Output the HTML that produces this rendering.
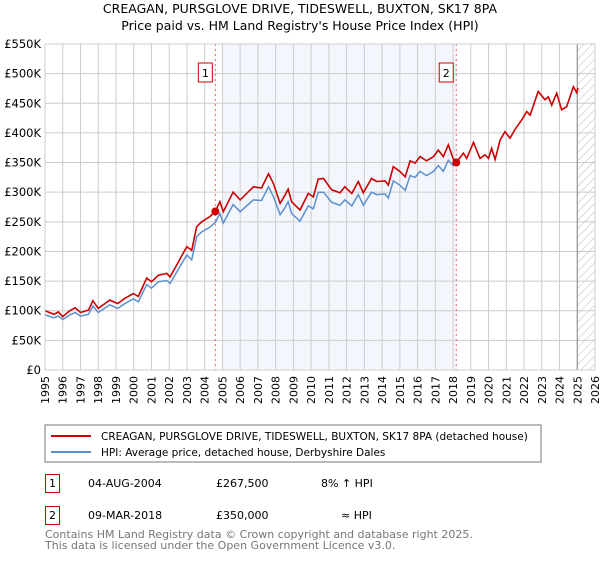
<!DOCTYPE html>
<html><head><meta charset="utf-8"><style>
body{margin:0;background:#fff;font-family:"DejaVu Sans","Liberation Sans",sans-serif;}
svg text{font-family:"DejaVu Sans","Liberation Sans",sans-serif;}
</style></head><body>
<svg id="c" width="600" height="560" xmlns="http://www.w3.org/2000/svg">
<defs><pattern id="hatch" width="6" height="6" patternUnits="userSpaceOnUse" patternTransform="rotate(45)"><line x1="0" y1="0" x2="0" y2="6" stroke="#bbb" stroke-width="1"/></pattern></defs>
<text x="300" y="13" text-anchor="middle" font-size="12.5">CREAGAN, PURSGLOVE DRIVE, TIDESWELL, BUXTON, SK17 8PA</text>
<text x="300" y="30" text-anchor="middle" font-size="12.5">Price paid vs. HM Land Registry's House Price Index (HPI)</text>
<g id="plot"></g>
<g>
<rect x="45" y="425" width="496" height="37" fill="#fff" stroke="#777"/>
<line x1="51" y1="436" x2="91" y2="436" stroke="#cc0000" stroke-width="2"/>
<text x="101" y="440" font-size="10.5">CREAGAN, PURSGLOVE DRIVE, TIDESWELL, BUXTON, SK17 8PA (detached house)</text>
<line x1="51" y1="452" x2="91" y2="452" stroke="#5b8fd0" stroke-width="2"/>
<text x="101" y="456" font-size="10.5">HPI: Average price, detached house, Derbyshire Dales</text>
</g>
<g font-size="11">
<rect x="45.5" y="474.5" width="14" height="18" fill="none" stroke="#cc0000"/>
<text x="52.5" y="487" text-anchor="middle">1</text>
<text x="88" y="487">04-AUG-2004</text>
<text x="216" y="487">£267,500</text>
<text x="321" y="487">8% ↑ HPI</text>
<rect x="45.5" y="506.5" width="14" height="18" fill="none" stroke="#cc0000"/>
<text x="52.5" y="519" text-anchor="middle">2</text>
<text x="88" y="519">09-MAR-2018</text>
<text x="216" y="519">£350,000</text>
<text x="341" y="519">≈ HPI</text>
</g>
<text x="45" y="538" font-size="11" fill="#777">Contains HM Land Registry data © Crown copyright and database right 2025.</text>
<text x="45" y="549" font-size="11" fill="#777">This data is licensed under the Open Government Licence v3.0.</text>
</svg>
<script>
const years=[1995,1996,1997,1998,1999,2000,2001,2002,2003,2004,2005,2006,2007,2008,2009,2010,2011,2012,2013,2014,2015,2016,2017,2018,2019,2020,2021,2022,2023,2024,2025,2026];
const yTicks=[0,50,100,150,200,250,300,350,400,450,500,550];
const yTickLabels=["£0","£50K","£100K","£150K","£200K","£250K","£300K","£350K","£400K","£450K","£500K","£550K"];
const priceDates=[1995.0,1995.5,1995.75,1996.0,1996.4,1996.7,1997.0,1997.45,1997.7,1998.0,1998.65,1999.1,1999.5,1999.98,2000.26,2000.73,2001.0,2001.4,2001.86,2002.05,2002.42,2002.99,2003.27,2003.55,2003.83,2004.3,2004.6,2004.86,2005.05,2005.6,2006.0,2006.74,2007.2,2007.6,2007.87,2008.25,2008.53,2008.7,2008.9,2009.37,2009.84,2010.12,2010.4,2010.7,2011.16,2011.63,2011.9,2012.29,2012.66,2012.94,2013.4,2013.7,2014.17,2014.35,2014.63,2015.0,2015.3,2015.58,2015.86,2016.14,2016.5,2016.9,2017.17,2017.45,2017.73,2018.0,2018.18,2018.58,2018.77,2019.15,2019.52,2019.8,2020.0,2020.17,2020.37,2020.65,2020.93,2021.21,2021.49,2021.87,2022.15,2022.34,2022.8,2023.18,2023.37,2023.56,2023.84,2024.12,2024.4,2024.5,2024.78,2024.97,2025.04];
const priceValues=[100,94,98,90,100,105,97,101,117,104,118,112,121,129,124,155,149,160,163,157,177,208,202,242,250,259,267.5,284,267,300,287,309,307,331,315,281,295,305,284,270,298,292,322,323,304,299,309,298,318,299,323,318,319,312,343,335,326,353,349,360,353,360,371,360,380,357,350,366,357,384,357,363,357,374,355,388,402,391,406,422,436,430,470,456,461,447,467,439,444,453,478,468,476];
const hpiDates=[1995.0,1995.5,1995.75,1996.0,1996.4,1996.7,1997.0,1997.45,1997.7,1998.0,1998.65,1999.1,1999.5,1999.98,2000.26,2000.73,2001.0,2001.4,2001.86,2002.05,2002.42,2002.99,2003.27,2003.55,2003.83,2004.3,2004.6,2004.86,2005.05,2005.6,2006.0,2006.74,2007.2,2007.6,2007.87,2008.25,2008.53,2008.7,2008.9,2009.37,2009.84,2010.12,2010.4,2010.7,2011.16,2011.63,2011.9,2012.29,2012.66,2012.94,2013.4,2013.7,2014.17,2014.35,2014.63,2015.0,2015.3,2015.58,2015.86,2016.14,2016.5,2016.9,2017.17,2017.45,2017.73,2018.0,2018.18];
const hpiValues=[93,88,91,85,93,97,91,94,108,97,110,104,112,120,115,144,138,149,151,146,165,194,186,225,233,241,249,264,248,279,267,287,286,309,293,262,274,284,264,251,277,272,300,300,283,278,287,277,296,278,300,296,297,290,319,312,303,328,325,335,328,335,345,335,354,345,350];
const sales=[[2004.6,267.5,"1"],[2018.18,350,"2"]];
const L=45,R=595,T=44,B=370,X0=1995,X1=2026,YM=550;
const xs=v=>L+(v-X0)/(X1-X0)*(R-L);
const ys=v=>B-v/YM*(B-T);
const NS="http://www.w3.org/2000/svg";
const g=document.getElementById('plot');
function mk(t,a,p){const e=document.createElementNS(NS,t);for(const k in a)e.setAttribute(k,a[k]);(p||g).appendChild(e);return e;}
let e=mk('rect',{x:xs(2005),y:T,width:xs(2018.18)-xs(2005),height:B-T,fill:'#eef3fc',opacity:0.7});


e=mk('rect',{x:xs(2025),y:T,width:R-xs(2025),height:B-T,fill:'url(#hatch)'});


years.forEach((y,i)=>{
 e=mk('line',{x1:xs(y),x2:xs(y),y1:T,y2:B,stroke:'#ccc','stroke-width':1});
 
 
 e=mk('text',{x:0,y:0,'font-size':11,'text-anchor':'end',transform:`translate(${xs(y)+4},${B+6}) rotate(-90)`});
 e.textContent=y;
 
 
});
yTicks.forEach((v,i)=>{
 e=mk('line',{x1:L,x2:R,y1:ys(v),y2:ys(v),stroke:'#ccc','stroke-width':1});
 
 
 e=mk('text',{x:L-4,y:ys(v)+4,'font-size':11.5,'text-anchor':'end'});
 e.textContent=yTickLabels[i];
 
 
});
e=mk('line',{x1:xs(2025),x2:xs(2025),y1:T,y2:B,stroke:'#888','stroke-width':1});


sales.forEach(s=>{
 e=mk('line',{x1:xs(s[0]),x2:xs(s[0]),y1:T,y2:B,stroke:'#e06666','stroke-width':1,'stroke-dasharray':'2,3'});
 
 
 e=mk('rect',{x:xs(s[0])-17,y:63,width:14,height:19,fill:'#fff',stroke:'#cc0000'});
 
 
 e=mk('text',{x:xs(s[0])-10,y:77,'font-size':11,'text-anchor':'middle'});
 e.textContent=s[2];
 
 
});
function path(d,v){return d.map((x,i)=>(i?'L':'M')+xs(x).toFixed(1)+','+ys(v[i]).toFixed(1)).join('');}
e=mk('path',{d:path(hpiDates,hpiValues),fill:'none',stroke:'#5b8fd0','stroke-width':1.5});


e=mk('path',{d:path(priceDates,priceValues),fill:'none',stroke:'#cc0000','stroke-width':1.6});


sales.forEach(s=>{
 e=mk('circle',{cx:xs(s[0]),cy:ys(s[1]),r:4,fill:'#cc0000'});
 
 
});
e=mk('rect',{x:L,y:T,width:R-L,height:B-T,fill:'none',stroke:'#ccc'});


</script>
</body></html>
